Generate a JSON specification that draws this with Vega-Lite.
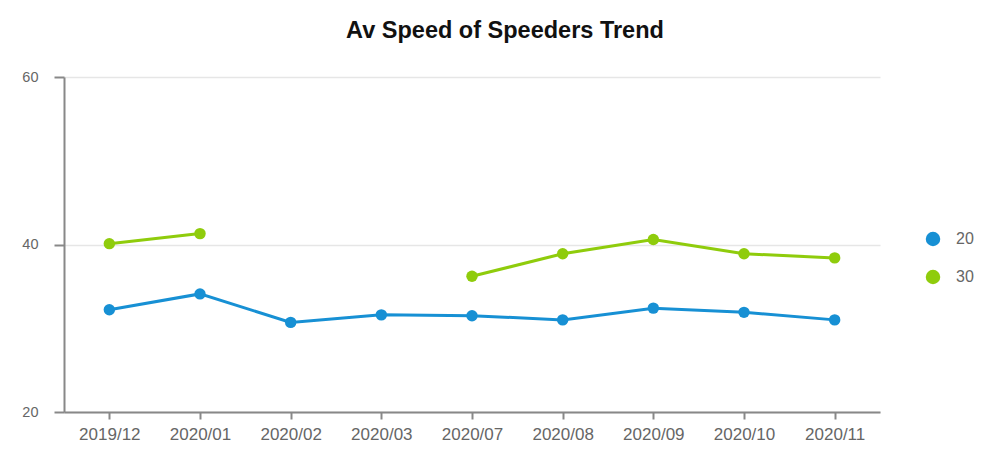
{
  "$schema": "https://vega.github.io/schema/vega-lite/v6.json",
  "width": 816,
  "height": 335,
  "autosize": "none",
  "padding": {"left": 64, "top": 77, "right": 116, "bottom": 43},
  "background": "white",
  "title": {
    "text": "Av Speed of Speeders Trend",
    "font": "Liberation Sans",
    "fontSize": 23.5,
    "fontWeight": "bold",
    "color": "#111111",
    "anchor": "middle",
    "dx": 33,
    "offset": 27
  },
  "data": {
    "values": [
      {"month": "2019/12", "limit": "20", "speed": 32.2},
      {"month": "2020/01", "limit": "20", "speed": 34.1},
      {"month": "2020/02", "limit": "20", "speed": 30.7},
      {"month": "2020/03", "limit": "20", "speed": 31.6},
      {"month": "2020/07", "limit": "20", "speed": 31.5},
      {"month": "2020/08", "limit": "20", "speed": 31.0},
      {"month": "2020/09", "limit": "20", "speed": 32.4},
      {"month": "2020/10", "limit": "20", "speed": 31.9},
      {"month": "2020/11", "limit": "20", "speed": 31.0},
      {"month": "2019/12", "limit": "30", "speed": 40.1},
      {"month": "2020/01", "limit": "30", "speed": 41.3},
      {"month": "2020/02", "limit": "30", "speed": null},
      {"month": "2020/03", "limit": "30", "speed": null},
      {"month": "2020/07", "limit": "30", "speed": 36.2},
      {"month": "2020/08", "limit": "30", "speed": 38.9},
      {"month": "2020/09", "limit": "30", "speed": 40.6},
      {"month": "2020/10", "limit": "30", "speed": 38.9},
      {"month": "2020/11", "limit": "30", "speed": 38.4}
    ]
  },
  "encoding": {
    "x": {
      "field": "month",
      "type": "ordinal",
      "sort": null,
      "scale": {"type": "point", "padding": 0.5},
      "axis": {
        "title": null,
        "labelAngle": 0,
        "labelFont": "Liberation Sans",
        "labelFontSize": 17,
        "labelColor": "#666666",
        "labelPadding": 7,
        "tickSize": 7,
        "tickColor": "#888888",
        "tickWidth": 2,
        "domainColor": "#888888",
        "domainWidth": 2,
        "grid": false
      }
    },
    "y": {
      "field": "speed",
      "type": "quantitative",
      "scale": {"domain": [20, 60], "nice": false, "zero": false},
      "axis": {
        "title": null,
        "values": [20, 40, 60],
        "labelFont": "Liberation Sans",
        "labelFontSize": 14.5,
        "labelColor": "#666666",
        "labelPadding": 16,
        "tickSize": 10,
        "tickColor": "#888888",
        "tickWidth": 2,
        "domainColor": "#888888",
        "domainWidth": 2,
        "grid": true,
        "gridColor": "#e6e6e6",
        "gridWidth": 1.5
      }
    },
    "color": {
      "field": "limit",
      "type": "nominal",
      "scale": {"domain": ["20", "30"], "range": ["#1790d4", "#8fcc0c"]},
      "legend": {
        "title": null,
        "orient": "none",
        "legendX": 861,
        "legendY": 154,
        "symbolType": "circle",
        "symbolSize": 210,
        "symbolStrokeWidth": 0,
        "labelFont": "Liberation Sans",
        "labelFontSize": 16,
        "labelColor": "#666666",
        "labelOffset": 15,
        "rowPadding": 22
      }
    }
  },
  "layer": [
    {
      "mark": {"type": "line", "strokeWidth": 3, "invalid": "break-paths-show-domains"}
    },
    {
      "mark": {"type": "point", "filled": true, "size": 130, "opacity": 1}
    }
  ],
  "config": {
    "view": {"stroke": null}
  }
}
